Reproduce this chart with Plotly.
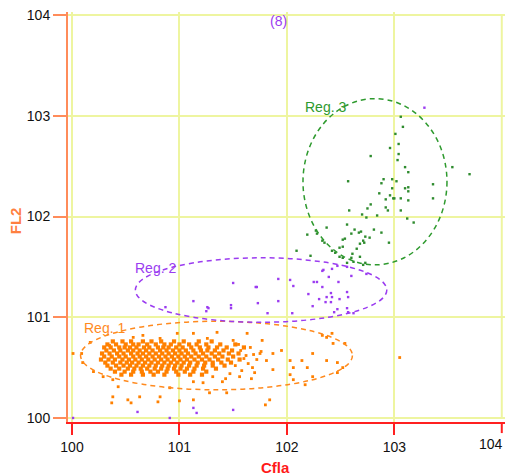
import plotly.graph_objects as go

# ---------------- data (log10 decades of Cfla / FL2) ----------------
tick_vals = [0, 1, 2, 3, 4]
tick_text = ["100", "101", "102", "103", "104"]

# dense core of population 1 (rows of FL2 value -> Cfla values)
core_rows_y = [0.76, 0.73, 0.70, 0.67, 0.64, 0.61, 0.58, 0.55, 0.52, 0.49, 0.46, 0.43]
core_rows_x = [
    [0.38, 0.47, 0.55, 0.66, 0.74, 0.83, 0.95, 1.04, 1.18, 1.30],
    [0.33, 0.41, 0.50, 0.57, 0.62, 0.70, 0.78, 0.86, 0.92, 1.00, 1.09, 1.16, 1.25, 1.38, 1.52],
    [0.30, 0.36, 0.44, 0.49, 0.54, 0.60, 0.67, 0.72, 0.80, 0.85, 0.90, 0.97, 1.03, 1.11, 1.19, 1.27, 1.35, 1.44, 1.60],
    [0.32, 0.39, 0.45, 0.52, 0.57, 0.63, 0.69, 0.75, 0.82, 0.88, 0.94, 1.00, 1.06, 1.13, 1.20, 1.26, 1.33, 1.41, 1.49],
    [0.28, 0.35, 0.42, 0.48, 0.55, 0.61, 0.66, 0.72, 0.78, 0.84, 0.90, 0.96, 1.02, 1.08, 1.15, 1.22, 1.30, 1.37, 1.46, 1.55],
    [0.30, 0.37, 0.44, 0.50, 0.57, 0.63, 0.69, 0.75, 0.81, 0.87, 0.93, 0.99, 1.05, 1.11, 1.18, 1.25, 1.33, 1.40, 1.50],
    [0.27, 0.34, 0.40, 0.47, 0.53, 0.59, 0.65, 0.71, 0.77, 0.83, 0.89, 0.95, 1.01, 1.07, 1.14, 1.21, 1.28, 1.36, 1.45, 1.56],
    [0.31, 0.38, 0.45, 0.51, 0.56, 0.62, 0.68, 0.74, 0.80, 0.86, 0.92, 0.98, 1.04, 1.10, 1.17, 1.24, 1.31, 1.39, 1.48],
    [0.33, 0.41, 0.48, 0.54, 0.60, 0.66, 0.72, 0.78, 0.84, 0.90, 0.96, 1.02, 1.09, 1.16, 1.23, 1.31, 1.42],
    [0.36, 0.44, 0.52, 0.58, 0.64, 0.70, 0.77, 0.83, 0.89, 0.95, 1.01, 1.07, 1.14, 1.22, 1.34],
    [0.40, 0.49, 0.57, 0.65, 0.73, 0.80, 0.88, 0.97, 1.05, 1.13, 1.25],
    [0.46, 0.55, 0.66, 0.76, 0.86, 0.99, 1.10, 1.21],
]

# sparse events of population 1
orange_x = [0.09, 0.10, 0.17, 0.20, 0.29, 0.38, 0.43, 0.52, 0.63, 0.82, 0.91, 1.00, 1.13, 1.22,
            1.31, 1.40, 1.56, 1.67, 1.80, 1.68, 1.81, 1.87, 1.95, 2.03, 2.06, 2.14, 2.19, 2.24,
            2.33, 2.37, 2.42, 2.43, 2.37, 2.47, 2.52, 2.54, 2.47, 2.24, 2.17, 2.03, 2.06, 1.75,
            1.87, 1.77, 1.63, 1.50, 1.35, 1.26, 1.13, 0.98, 0.82, 0.66, 0.57, 0.35, 1.13, 1.44,
            1.28, 1.84, 0.38, 0.37, 0.55, 0.80, 3.05, 0.01, 1.62, 1.66, 1.72, 1.58, 1.64, 1.76,
            1.70, 1.55, 1.52, 1.60, 1.47, 1.57, 1.43, 1.69]
orange_y = [0.64, 0.55, 0.75, 0.46, 0.41, 0.38, 0.31, 0.18, 0.21, 0.21, 0.30, 0.17, 0.36, 0.35,
            0.41, 0.36, 0.41, 0.39, 0.13, 0.50, 0.57, 0.48, 0.67, 0.57, 0.50, 0.57, 0.50, 0.64,
            0.82, 0.80, 0.84, 0.74, 0.57, 0.55, 0.50, 0.74, 0.45, 0.41, 0.33, 0.43, 0.38, 0.64,
            0.64, 0.77, 0.84, 0.77, 0.85, 0.79, 0.84, 0.84, 0.79, 0.82, 0.80, 0.72, 0.18, 0.25,
            0.25, 0.18, 0.21, 0.15, 0.15, 0.16, 0.60, 0.64, 0.62, 0.70, 0.58, 0.47, 0.54, 0.66,
            0.45, 0.73, 0.52, 0.59, 0.44, 0.67, 0.39, 0.63]

purple_x = [1.92, 2.03, 2.06, 2.25, 2.28, 2.33, 2.20, 2.41, 2.37, 2.42, 2.56, 2.30, 2.49, 2.57,
            2.36, 2.24, 2.47, 2.41, 2.56, 2.57, 2.62, 2.44, 2.05, 1.92, 1.82, 1.73, 1.72, 2.34,
            2.42, 2.47, 2.56, 2.60, 1.50, 1.71, 1.13, 1.26, 1.27, 1.48, 1.48, 1.25, 0.87, 2.33,
            2.39, 2.74, 2.48, 3.28, 0.61, 0.01, 0.91, 1.16, 1.50, 1.13]
purple_y = [1.38, 1.37, 1.31, 1.35, 1.35, 1.30, 1.23, 1.24, 1.20, 1.20, 1.25, 1.18, 1.18, 1.20,
            1.15, 1.11, 1.08, 1.15, 1.09, 1.05, 1.04, 1.05, 1.04, 1.16, 1.04, 1.14, 1.30, 1.47,
            1.48, 1.51, 1.50, 1.41, 1.34, 1.30, 1.16, 1.10, 1.09, 1.12, 1.09, 1.06, 1.10, 1.46,
            1.40, 1.43, 1.35, 3.08, 0.06, 0.00, 0.00, 0.05, 0.08, 0.10]

green_x = [3.06, 3.08, 3.01, 2.96, 3.04, 3.04, 2.78, 3.03, 3.54, 3.70, 3.10, 3.13, 2.57, 2.90,
           2.98, 3.02, 3.36, 2.88, 2.98, 3.10, 3.13, 3.13, 2.86, 2.96, 2.92, 2.99, 3.00, 3.06,
           3.13, 3.36, 2.78, 2.75, 2.92, 2.94, 3.06, 2.58, 2.70, 2.74, 2.84, 3.12, 3.18, 2.56,
           2.37, 2.81, 2.63, 2.67, 2.88, 2.60, 2.73, 2.77, 2.19, 2.54, 2.72, 2.68, 2.52, 2.49,
           2.09, 2.22, 2.49, 2.61, 2.68, 2.52, 2.60, 2.27, 2.28, 2.33, 2.35, 2.52, 2.42, 2.45,
           2.65, 2.71, 2.69, 2.95, 2.56, 2.62, 2.73, 2.71]
green_y = [2.99, 2.89, 2.82, 2.68, 2.72, 2.62, 2.60, 2.56, 2.49, 2.42, 2.49, 2.44, 2.35, 2.37,
           2.37, 2.35, 2.32, 2.33, 2.28, 2.28, 2.29, 2.25, 2.23, 2.21, 2.17, 2.18, 2.18, 2.18,
           2.16, 2.18, 2.12, 2.08, 2.09, 2.06, 2.06, 2.06, 2.02, 1.99, 2.01, 1.98, 1.94, 1.92,
           1.89, 1.87, 1.87, 1.84, 1.84, 1.83, 1.80, 1.79, 1.82, 1.78, 1.74, 1.73, 1.70, 1.69,
           1.66, 1.61, 1.60, 1.63, 1.60, 1.59, 1.59, 1.86, 1.83, 1.76, 1.74, 1.77, 1.66, 1.64,
           1.68, 1.76, 1.85, 1.74, 1.54, 1.55, 1.54, 1.52]

# gating regions: name, colour, (x0, x1, y0, y1) bounds, label anchor
region_names = ["Reg. 1", "Reg. 2", "Reg. 3"]
region_colors = ["#ff8a1e", "#9b3cf0", "#2e9a2e"]
region_bounds = [(0.08, 2.61, 0.28, 0.96), (0.59, 2.93, 0.95, 1.59), (2.15, 3.49, 1.52, 3.17)]
region_label_pos = [(0.09, 0.89), (0.57, 1.49), (2.15, 3.09)]

event_count_text = "(8)"

ORANGE = "#ff8000"
PURPLE = "#9b3cf0"
GREEN = "#2e8b2e"
FONT = "Liberation Sans, Arial"

core_x = [x for row in core_rows_x for x in row]
core_y = [y for y, row in zip(core_rows_y, core_rows_x) for _ in row]

fig = go.Figure()
fig.add_trace(go.Scatter(x=core_x, y=core_y, mode="markers",
                         marker=dict(symbol="square", size=4.2, color=ORANGE, line=dict(width=0)),
                         hoverinfo="skip"))
fig.add_trace(go.Scatter(x=orange_x, y=orange_y, mode="markers",
                         marker=dict(symbol="square", size=2.8, color=ORANGE, line=dict(width=0)),
                         hoverinfo="skip"))
fig.add_trace(go.Scatter(x=purple_x, y=purple_y, mode="markers",
                         marker=dict(symbol="square", size=2.4, color=PURPLE, line=dict(width=0)),
                         hoverinfo="skip"))
fig.add_trace(go.Scatter(x=green_x, y=green_y, mode="markers",
                         marker=dict(symbol="square", size=2.4, color=GREEN, line=dict(width=0)),
                         hoverinfo="skip"))

for name, col, (x0, x1, y0, y1), (lx, ly) in zip(region_names, region_colors, region_bounds, region_label_pos):
    fig.add_shape(type="circle", xref="x", yref="y", x0=x0, x1=x1, y0=y0, y1=y1,
                  line=dict(color=col, width=1.5, dash="5px,4px"))
    fig.add_annotation(x=lx, y=ly, text=name, showarrow=False, xanchor="left", yanchor="middle",
                       font=dict(family=FONT, size=14, color=col))

fig.add_annotation(x=1.92, y=3.94, text=event_count_text, showarrow=False,
                   font=dict(family=FONT, size=14, color=PURPLE))

# last x tick label placed against the right edge (as in the reference)
fig.add_annotation(xref="paper", yref="paper", x=1.0, xanchor="right", y=-0.030, yanchor="top",
                   text=tick_text[-1], showarrow=False,
                   font=dict(family=FONT, size=14, color="#111111"))

# axis titles
fig.add_annotation(xref="paper", yref="paper", x=0.475, y=-0.086, text="<b>Cfla</b>", showarrow=False,
                   yanchor="top", font=dict(family=FONT, size=15, color="#ff1a1a"))
fig.add_annotation(xref="paper", yref="paper", x=-0.145, y=0.49, text="<b>FL2</b>", showarrow=False,
                   textangle=-90, font=dict(family=FONT, size=15, color="#ff8040"))

grid_col = "#eef5a0"
fig.update_xaxes(range=[-0.037, 4.03], tickvals=tick_vals[:-1], ticktext=tick_text[:-1],
                 showgrid=True, gridcolor=grid_col, gridwidth=2, zeroline=False,
                 showline=True, linecolor="#ff2020", linewidth=2,
                 ticks="outside", ticklen=11, tickwidth=2, tickcolor="#ff2020",
                 ticklabelstandoff=0,
                 tickfont=dict(family=FONT, size=14, color="#111111"))
fig.update_yaxes(range=[-0.04, 4.03], tickvals=tick_vals, ticktext=tick_text,
                 showgrid=True, gridcolor=grid_col, gridwidth=2, zeroline=False,
                 showline=True, linecolor="#ff8c5a", linewidth=2,
                 ticks="outside", ticklen=13, tickwidth=2, tickcolor="#ff8c5a",
                 tickfont=dict(family=FONT, size=14, color="#111111"))

# tick mark and grid line at the last x decade (label drawn above)
fig.add_shape(type="line", xref="x", yref="paper", x0=tick_vals[-1], x1=tick_vals[-1], y0=0, y1=-0.027,
              line=dict(color="#ff2020", width=2))
fig.add_shape(type="line", xref="x", yref="y", x0=tick_vals[-1], x1=tick_vals[-1], y0=0, y1=4,
              line=dict(color=grid_col, width=2), layer="below")

fig.update_layout(width=507, height=475, margin=dict(l=68, r=2, t=12, b=53),
                  plot_bgcolor="white", paper_bgcolor="white", showlegend=False)

fig.write_html("out.html")
